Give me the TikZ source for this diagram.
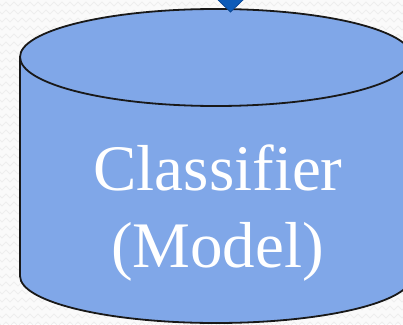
\documentclass[tikz,border=0pt]{standalone}
\usepackage{fontspec}
\setmainfont{Liberation Serif}
\usetikzlibrary{decorations.pathmorphing}
\definecolor{cylfill}{RGB}{128,167,232}
\definecolor{arrowfill}{RGB}{14,92,184}
\definecolor{arrowedge}{RGB}{10,72,150}
\definecolor{texture}{RGB}{238,238,238}
\tikzset{
  texture line/.style={draw=texture, line width=0.8pt,
    decorate, decoration={zigzag, segment length=8pt, amplitude=2pt}},
  cylbody/.style={fill=cylfill, draw=black!90, line width=1.8pt},
  cyltext/.style={text=white, font=\fontsize{65}{77}\selectfont, inner sep=0pt},
  arrowtip/.style={fill=arrowfill, draw=arrowedge, line width=0.8pt, line join=miter}
}
\begin{document}
\begin{tikzpicture}[x=1pt,y=-1pt]
  \useasboundingbox (0,0) rectangle (403,324);
  % page background with its light zigzag texture
  \fill[white!98!black] (0,0) rectangle (403,324);
  \begin{scope}
    \clip (0,0) rectangle (403,324);
    \foreach \r in {4,12,...,332}
      \draw[texture line] (-4,\r) -- (410,\r);
  \end{scope}
  % cylinder: side wall with bottom arc, then the top ellipse
  \filldraw[cylbody] (20,57) -- (20,276)
    arc[start angle=180, end angle=360, x radius=196pt, y radius=47pt]
    -- (412,57)
    arc[start angle=0, end angle=180, x radius=196pt, y radius=48pt]
    -- cycle;
  \draw[cylbody, fill=none] (20,57)
    arc[start angle=180, end angle=360, x radius=196pt, y radius=49pt];
  % incoming arrow tip from above
  \coordinate (tip) at (230.5,12);
  \filldraw[arrowtip] (216,-2) -- (245,-2) -- (tip) -- cycle;
  % label
  \node[cyltext, anchor=base] (line1) at (218,190) {Classifier};
  \node[cyltext, anchor=base] (line2) at (217.5,267) {(Model)};
\end{tikzpicture}
\end{document}
